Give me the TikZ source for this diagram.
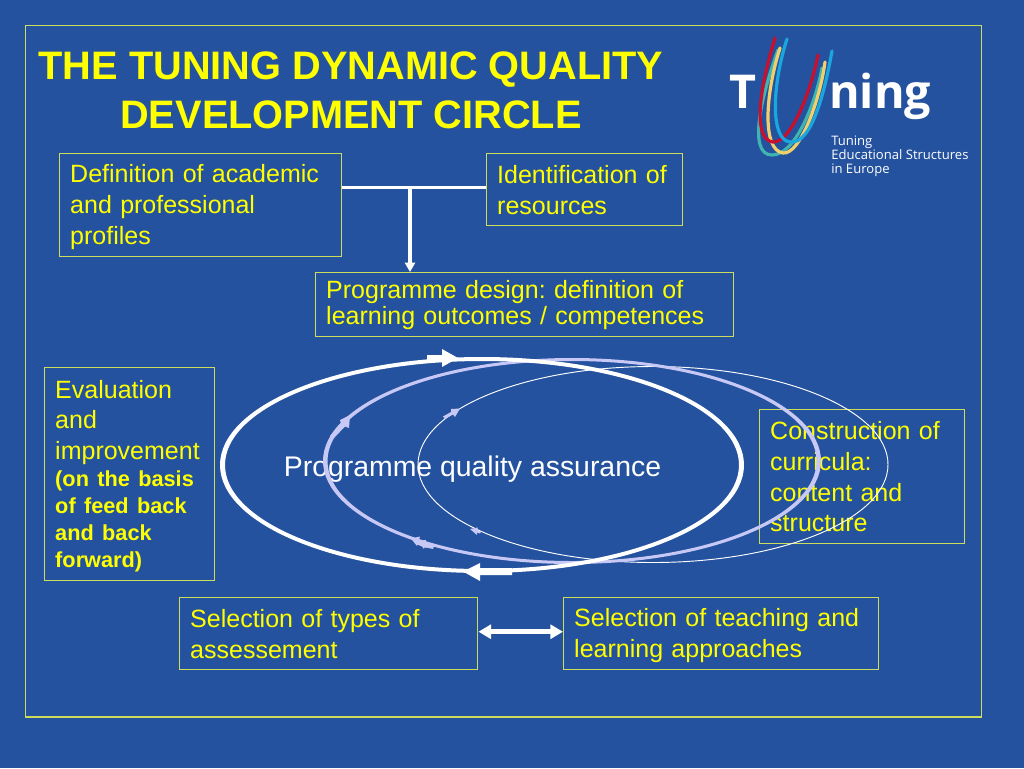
\documentclass[tikz,border=0pt]{standalone}
\usepackage{fontspec}
\setmainfont{Liberation Sans}
\newfontfamily\logofont{Open Sans}
\usetikzlibrary{arrows.meta,calc}
\definecolor{bgblue}{HTML}{24529E}
\definecolor{edge}{HTML}{CBDD5A}
\definecolor{lilac}{HTML}{C8C8F6}
\definecolor{ttl}{HTML}{FFFF00}
\definecolor{lred}{HTML}{C8102E}
\definecolor{lyel}{HTML}{F2CF6B}
\definecolor{lteal}{HTML}{3FB4B0}
\definecolor{lblue}{HTML}{1AA7E0}
\tikzset{
  x=0.75pt,y=-0.75pt,
  box/.style={draw=edge,line width=1.1pt,text=ttl,align=left,inner sep=0pt,anchor=north west,font=\fontsize{18.75}{23.1}\selectfont},
  thinring/.style={draw=white,line width=0.7pt},
  wire/.style={draw=white,line width=2.6pt},
  swoosh/.style={line width=2.4pt,line cap=round},
}
\newcommand{\lift}[1]{\rule{0pt}{\dimexpr 13.6pt+#1pt\relax}}
\newcommand{\boxnode}[7]{% name, x1,y1,x2,y2, extra, text
  \node[box,minimum width={(#4-#2-1)*0.75pt},minimum height={(#5-#3-1)*0.75pt},text width={(#4-#2)*0.75pt-16.5pt},#6] (#1) at (#2,#3) {#7};}
\begin{document}
\frenchspacing
\begin{tikzpicture}
\useasboundingbox (0,0) rectangle (1024,768);
\fill[bgblue] (0,0) rectangle (1024,768);
\node[draw=edge,line width=1.1pt,minimum width=717pt,minimum height=518.5pt,inner sep=0pt,anchor=north west] (frame) at (25,25) {};

\node[text=ttl,font=\fontsize{29.8}{36.8}\selectfont\bfseries,align=center] (title) at (351,90.5) {THE TUNING DYNAMIC QUALITY\\DEVELOPMENT CIRCLE};

% logo
\draw[swoosh,lteal] (778,50) .. controls (765,85) and (745,155) .. (772,155) .. controls (795,155) and (815,105) .. (822,68);
\draw[swoosh,lyel] (780,48) .. controls (765,95) and (762,150) .. (783,153) .. controls (800,155) and (820,100) .. (825,62);
\draw[swoosh,lred] (775,38) .. controls (756,100) and (755,140) .. (773,142) .. controls (790,143) and (810,95) .. (818,55);
\draw[swoosh,lblue] (787,39) .. controls (772,85) and (770,140) .. (790,142) .. controls (812,145) and (825,90) .. (832,51);
\node[text=white,font=\logofont\fontsize{35}{35}\selectfont\bfseries,anchor=base west,inner sep=0pt] (logoT) at (729,108.5) {T};
\node[text=white,font=\logofont\fontsize{35}{35}\selectfont\bfseries,anchor=base west,inner sep=0pt] (logoN) at (829,108.5) {ning};
\node[text=white,font=\logofont\fontsize{9.8}{10.5}\selectfont,align=left,anchor=north west,inner sep=0pt] (logoS) at (831,136) {Tuning\\Educational Structures\\in Europe};

% boxes
\boxnode{defn}{59}{153}{342}{257}{}{\lift{3}Definition of academic\\and professional\\profiles}
\boxnode{ident}{486}{153}{683}{226}{}{Identification of\\resources}
\boxnode{design}{315}{272}{734}{337}{font=\fontsize{18.75}{19.5}\selectfont}{Programme design: definition of\\learning outcomes / competences}
\boxnode{evalbox}{44}{367}{215}{581}{}{\lift{3}Evaluation\\and\\improvement\\{\fontsize{16.3}{20.3}\selectfont\bfseries (on the basis\\of feed back\\and back\\forward)\par}}
\boxnode{constr}{759}{409}{965}{544}{}{Construction of\\curricula:\\content and\\structure}
\boxnode{assess}{179}{597}{478}{670}{}{Selection of types of\\assessement}
\boxnode{teach}{563}{597}{879}{670}{}{\lift{3}Selection of teaching and\\learning approaches}

\node[text=white,font=\fontsize{21.3}{24}\selectfont,inner sep=0pt] (qa) at (472.5,469.5) {Programme quality assurance};

% rings
\draw[thinring] (653,464.5) ellipse [x radius=235,y radius=98];
\fill[lilac,even odd rule] (572,461) ellipse [x radius=249,y radius=103] (572,461) ellipse [x radius=244.5,y radius=100];
\fill[white,even odd rule] (482,465) ellipse [x radius=262,y radius=108] (482,465) ellipse [x radius=257,y radius=104];

% ring arrowheads
\fill[white] (427,355) -- (442,355) -- (442,349) -- (458,358) -- (442,367) -- (442,362) -- (427,362) -- cycle;
\fill[white] (512,568) -- (480,568) -- (480,563) -- (463,571.5) -- (480,581) -- (480,575) -- (512,575) -- cycle;
\fill[lilac] (330,436) -- (341,424) -- (340,420) -- (350,415) -- (349,428) -- (345,426.5) -- (334,438) -- cycle;
\fill[lilac] (411,538.5) -- (420,536.5) -- (419,540) -- (428,544) -- (426,548) -- (417,544.5) -- (417,546) -- cycle;
\fill[lilac] (418,541) -- (426,540) -- (425,544) -- (434,546) -- (433,549) -- (424,547) -- (424,549) -- cycle;
\fill[lilac] (443,416.5) -- (451,412) -- (451,409) -- (460,408.5) -- (455,417) -- (453,414.5) -- (445,419) -- cycle;
\fill[lilac] (470,529) -- (478,527.5) -- (477,530) -- (481,531.5) -- (480,533.5) -- (477,532.5) -- (477,535) -- cycle;

% connectors
\coordinate (tee) at (410,187.5);
\draw[wire] (tee -| defn.east) -- (tee -| ident.west);
\draw[wire,line width=2.4pt,-{Triangle[width=7.5pt,length=7pt]}] (tee) -- (tee |- design.north);
\draw[wire,line width=3.7pt,{Triangle[width=10.5pt,length=9.5pt]}-{Triangle[width=10.5pt,length=9.5pt]}] ([yshift=1.5pt]assess.east) -- ([yshift=1.5pt]teach.west);
\end{tikzpicture}
\end{document}
